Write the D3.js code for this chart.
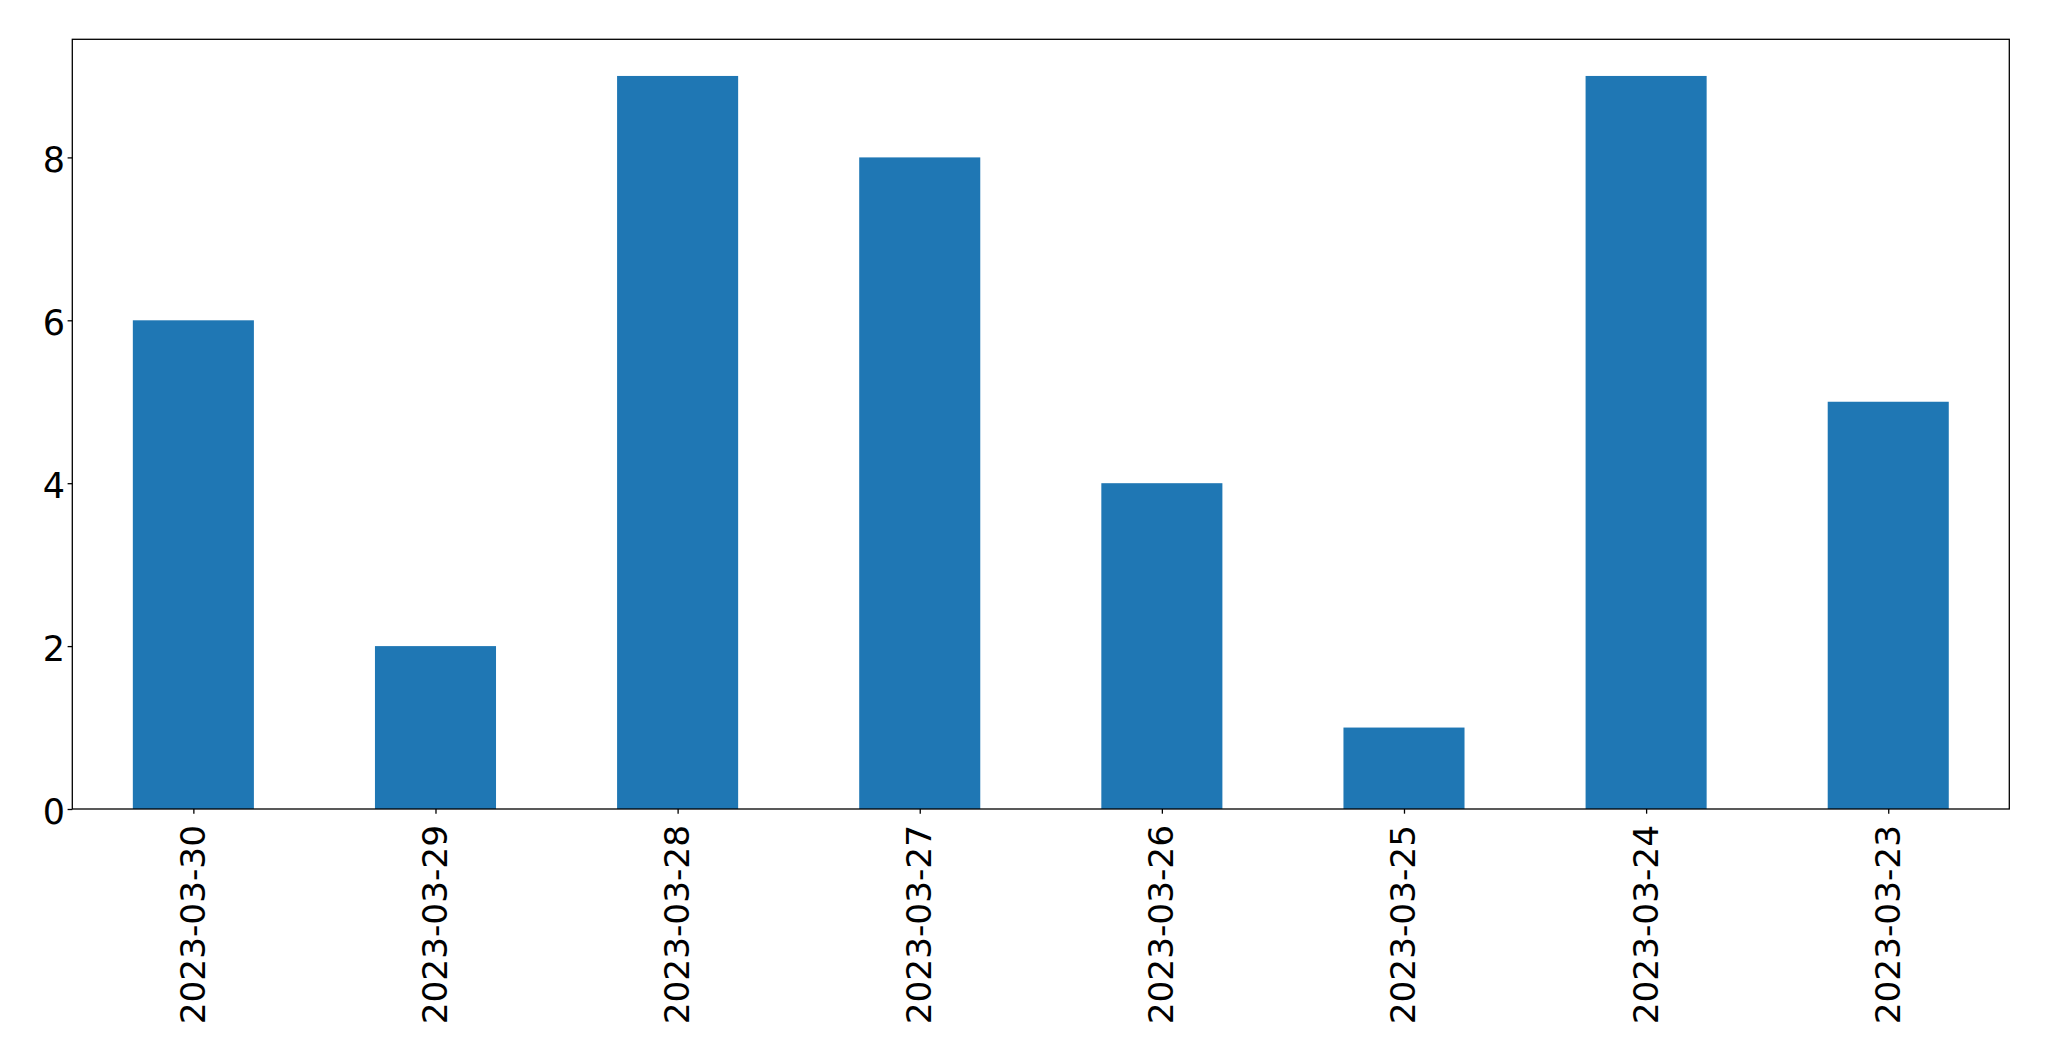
<!DOCTYPE html>
<html>
<head>
<meta charset="utf-8">
<script src="https://cdn.jsdelivr.net/npm/d3@7"></script>
<style>
html,body{margin:0;padding:0;background:#fff;}
svg{display:block;}
text{font-family:"DejaVu Sans", sans-serif;}
</style>
</head>
<body>
<svg id="chart" width="2049" height="1061"></svg>
<script>
const categories = ["2023-03-30","2023-03-29","2023-03-28","2023-03-27","2023-03-26","2023-03-25","2023-03-24","2023-03-23"];
const values = [6,2,9,8,4,1,9,5];
const yTicks = [0,2,4,6,8];

const W = 2049, H = 1061;
const m = {left:72.3, right:2009.3, top:39.3, bottom:809};
const svg = d3.select("#chart");
const fontFamily = "DejaVu Sans, sans-serif";
const fs = 34.3;

const x = d3.scaleLinear().domain([-0.5, categories.length - 0.5]).range([m.left, m.right]);
const y = d3.scaleLinear().domain([0, d3.max(values) * 1.05]).range([m.bottom, m.top]);
const barW = 0.5;

svg.append("g").selectAll("rect").data(values).join("rect")
  .attr("x", (d,i) => x(i - barW/2))
  .attr("width", (d,i) => x(i + barW/2) - x(i - barW/2))
  .attr("y", d => y(d))
  .attr("height", d => y(0) - y(d))
  .attr("fill", "#1f77b4");

// frame
svg.append("rect")
  .attr("x", m.left).attr("y", m.top)
  .attr("width", m.right - m.left).attr("height", m.bottom - m.top)
  .attr("fill", "none").attr("stroke", "#000").attr("stroke-width", 1.3);

// y axis
const yAxis = d3.axisLeft(y).tickValues(yTicks).tickSize(4.7).tickPadding(2.5).tickFormat(d3.format("d"));
const gy = svg.append("g").attr("transform", `translate(${m.left},0)`).call(yAxis);
gy.select(".domain").remove();
gy.selectAll(".tick line").attr("stroke", "#000").attr("stroke-width", 1.3);
gy.selectAll(".tick text").attr("font-family", fontFamily).attr("font-size", 35).attr("fill", "#000").attr("dy", "0.41em");

// x axis
const xAxis = d3.axisBottom(x).tickValues(d3.range(categories.length)).tickSize(4.7).tickFormat(i => categories[i]);
const gx = svg.append("g").attr("transform", `translate(0,${m.bottom})`).call(xAxis);
gx.select(".domain").remove();
gx.selectAll(".tick line").attr("stroke", "#000").attr("stroke-width", 1.3);
gx.selectAll(".tick text")
  .attr("font-family", fontFamily).attr("font-size", fs).attr("fill", "#000")
  .attr("text-anchor", "end")
  .attr("x", 0).attr("y", 0).attr("dy", "0.32em")
  .attr("transform", "translate(0,16) rotate(-90)");
</script>
</body>
</html>
